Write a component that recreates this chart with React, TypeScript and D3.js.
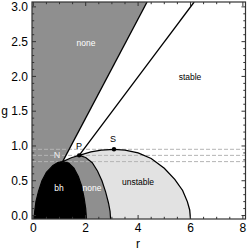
import * as d3 from "d3";

// points of the phase diagram, [r, g]
const pointN: [number, number] = [1.12, 0.775];
const pointP: [number, number] = [1.75, 0.865];
const pointS: [number, number] = [3.08, 0.952];

const blackEdge: [number, number][] = [
  [0.03, -0.05], [0.05, 0.05], [0.1, 0.2], [0.2, 0.35], [0.33, 0.5], [0.5, 0.62],
  [0.75, 0.72], [0.95, 0.765], [1.12, 0.775], [1.35, 0.755], [1.55, 0.68],
  [1.72, 0.56], [1.85, 0.42], [1.94, 0.25], [2.0, 0.1], [2.03, -0.05],
];
const npEdge: [number, number][] = [[1.12, 0.775], [1.45, 0.83], [1.75, 0.865]];
const noneEdge: [number, number][] = [
  [1.75, 0.865], [2.0, 0.835], [2.25, 0.76], [2.45, 0.64], [2.62, 0.5],
  [2.76, 0.34], [2.87, 0.18], [2.93, 0.06], [2.95, -0.05],
];
const stabilityArc: [number, number][] = [
  [1.75, 0.865], [2.2, 0.915], [2.6, 0.94], [3.08, 0.952], [3.5, 0.94], [4.0, 0.9],
  [4.5, 0.82], [5.0, 0.68], [5.4, 0.52], [5.7, 0.36], [5.88, 0.2], [5.97, 0.08], [6.0, -0.05],
];
// straight boundaries g = k * r
const slopes = [0.707, 0.5];
const dashedLevels = [pointS[1], pointP[1], pointN[1]];

const xTicks = [0, 2, 4, 6, 8];
const yTicks = [0, 0.5, 1, 1.5, 2, 2.5, 3];

const W = 250, H = 251;
const x = d3.scaleLinear().domain([-0.05, 8.1]).range([32, 245.5]);
const y = d3.scaleLinear().domain([-0.05, 3.07]).range([219, 2]);
const [gMin, gMax] = y.domain();
const [rMin, rMax] = x.domain();

const line = d3.line<[number, number]>().x(d => x(d[0])).y(d => y(d[1]));
const closed = (pts: [number, number][]) => line(pts) + "Z";

export default function App() {
  const top1: [number, number] = [gMax / slopes[0], gMax];
  const top2: [number, number] = [gMax / slopes[1], gMax];

  const upperGray = closed([[rMin, gMax], top1, pointN, [1.12, gMin], [rMin, gMin]]);
  const lowerGray = closed([...npEdge, ...noneEdge, [1.12, gMin]]);
  const lightGray = closed([...stabilityArc, ...noneEdge.slice().reverse()]);
  const black = closed(blackEdge);

  const xMinor = d3.range(0, 8.01, 0.5);
  const yMinor = d3.range(0, 3.01, 0.1);
  const font = "Liberation Sans, Arial, sans-serif";
  const frame = "#333";

  return (
    <svg width={W} height={H} style={{ position: "absolute", left: 0, top: 0, background: "#fff" }} fontFamily={font}>
      <defs>
        <clipPath id="plot">
          <rect x={x(rMin)} y={y(gMax)} width={x(rMax) - x(rMin)} height={y(gMin) - y(gMax)} />
        </clipPath>
      </defs>
      <g clipPath="url(#plot)">
        <path d={upperGray} fill="#8f8f8f" />
        <path d={lightGray} fill="#e2e2e2" />
        <path d={lowerGray} fill="#8f8f8f" />
        <path d={black} fill="#000" />
        {dashedLevels.map((g, i) => (
          <line key={i} x1={x(rMin)} x2={x(rMax)} y1={y(g)} y2={y(g)} stroke="#b4b4b4" strokeWidth={1} strokeDasharray="4,2" />
        ))}
        <path d={line([pointN, top1])!} fill="none" stroke="#000" strokeWidth={1.3} />
        <path d={line([pointP, top2])!} fill="none" stroke="#000" strokeWidth={1.3} />
        <path d={line(npEdge)!} fill="none" stroke="#000" strokeWidth={1.2} />
        <path d={line(noneEdge)!} fill="none" stroke="#000" strokeWidth={1.2} />
        <path d={line(stabilityArc)!} fill="none" stroke="#000" strokeWidth={1.3} />
        <path d={line(blackEdge)!} fill="none" stroke="#000" strokeWidth={1.2} />
        {[pointP, pointS].map((p, i) => (
          <circle key={i} cx={x(p[0])} cy={y(p[1])} r={2.2} fill="#000" />
        ))}
      </g>

      {/* region labels */}
      <g fontSize={8.5} textAnchor="middle">
        <text x={86} y={45.5} fill="#fff">none</text>
        <text x={190} y={80} fill="#000">stable</text>
        <text x={59} y={191} fill="#fff">bh</text>
        <text x={92} y={191} fill="#fff">none</text>
        <text x={138} y={185} fill="#000">unstable</text>
        <text x={57} y={158} fill="#eee" fontSize={9}>N</text>
        <text x={79} y={149} fill="#000" fontSize={9}>P</text>
        <text x={113} y={142} fill="#000" fontSize={9}>S</text>
      </g>

      {/* frame */}
      <rect x={x(rMin)} y={y(gMax)} width={x(rMax) - x(rMin)} height={y(gMin) - y(gMax)} fill="none" stroke={frame} strokeWidth={1.2} />
      {xMinor.map((t, i) => {
        const major = xTicks.includes(t);
        const len = major ? 4 : 2.2;
        return (
          <g key={"x" + i} stroke={frame} strokeWidth={1}>
            <line x1={x(t)} x2={x(t)} y1={y(gMin)} y2={y(gMin) - len} />
            <line x1={x(t)} x2={x(t)} y1={y(gMax)} y2={y(gMax) + len} />
          </g>
        );
      })}
      {yMinor.map((t, i) => {
        const major = yTicks.some(v => Math.abs(v - t) < 1e-6);
        const len = major ? 4 : 2.2;
        return (
          <g key={"y" + i} stroke={frame} strokeWidth={1}>
            <line x1={x(rMin)} x2={x(rMin) + len} y1={y(t)} y2={y(t)} />
            <line x1={x(rMax)} x2={x(rMax) - len} y1={y(t)} y2={y(t)} />
          </g>
        );
      })}
      <g fontSize={12} fill="#000">
        {xTicks.map(t => (
          <text key={t} x={x(t)} y={232} textAnchor="middle">{t}</text>
        ))}
        {yTicks.map(t => (
          <text key={t} x={28} y={y(t) + 4.3} textAnchor="end">{t.toFixed(1)}</text>
        ))}
        <text x={138} y={248} textAnchor="middle">r</text>
        <text x={4.5} y={115} textAnchor="middle">g</text>
      </g>
    </svg>
  );
}
